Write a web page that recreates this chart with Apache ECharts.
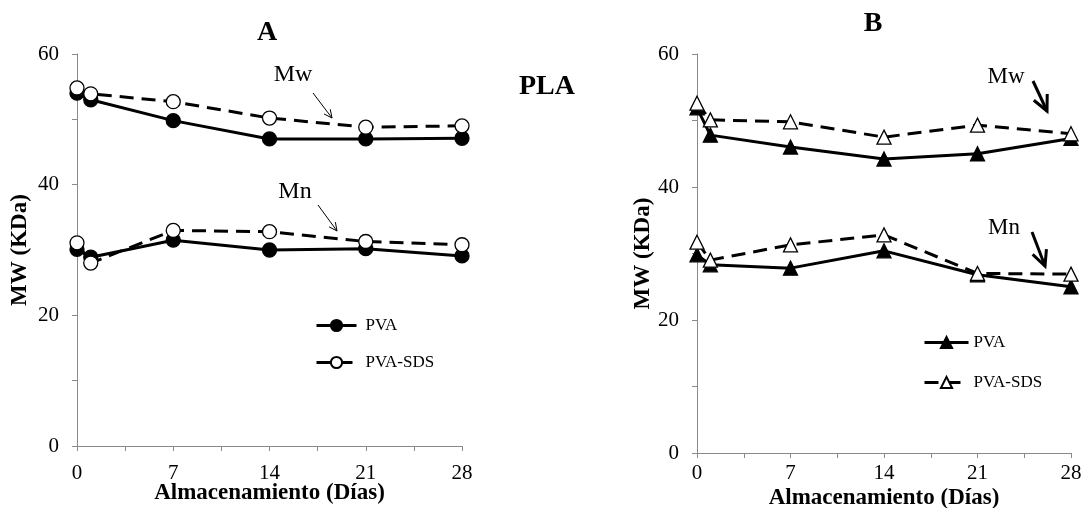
<!DOCTYPE html>
<html>
<head>
<meta charset="utf-8">
<script src="https://cdn.jsdelivr.net/npm/echarts@6/dist/echarts.min.js"></script>
<style>html,body{margin:0;padding:0;background:#fff}#c{width:1088px;height:508px}</style>
</head>
<body>
<div id="c"></div>
<script>
const days = [0, 1, 7, 14, 21, 28];
const xTicks = [0, 7, 14, 21, 28];
const yTicks = [0, 20, 40, 60];
// Panel A (circles)
const aMwPVA = [54.0, 53.0, 49.8, 47.0, 47.0, 47.1];
const aMwSDS = [54.8, 53.9, 52.7, 50.2, 48.8, 49.0];
const aMnPVA = [30.1, 28.9, 31.5, 30.0, 30.2, 29.1];
const aMnSDS = [31.1, 28.0, 33.0, 32.8, 31.3, 30.8];
// Panel B (triangles)
const bMwPVA = [51.9, 47.8, 46.0, 44.2, 45.0, 47.3];
const bMwSDS = [52.6, 50.1, 49.8, 47.5, 49.3, 48.0];
const bMnPVA = [29.8, 28.3, 27.8, 30.4, 26.8, 25.0];
const bMnSDS = [31.7, 29.0, 31.3, 32.8, 27.0, 26.9];

const FONT = '"Liberation Serif","Times New Roman",serif';
const AX = '#8a8a8a';

function pts(vals){ return days.map((d,i)=>[d, vals[i]]); }

function xAxis(gi, nameGap, labMargin){
  return {
    type:'value', gridIndex:gi, min:0, max:28, interval:3.5,
    name:'Almacenamiento (Días)', nameLocation:'middle', nameGap:nameGap, nameMoveOverlap:false,
    nameTextStyle:{fontFamily:FONT, fontWeight:'bold', fontSize:23, color:'#000'},
    axisLine:{show:true, lineStyle:{color:AX, width:1}},
    axisTick:{show:true, length:5, lineStyle:{color:AX}},
    splitLine:{show:false},
    axisLabel:{fontFamily:FONT, fontSize:21, color:'#000', margin:labMargin,
      formatter:v=> xTicks.indexOf(Math.round(v*100)/100) >= 0 ? String(Math.round(v)) : ''}
  };
}
function yAxis(gi, nameGap){
  return {
    type:'value', gridIndex:gi, min:0, max:60, interval:10,
    name:'MW (KDa)', nameLocation:'middle', nameGap:nameGap, nameRotate:90,
    nameTextStyle:{fontFamily:FONT, fontWeight:'bold', fontSize:23, color:'#000'},
    axisLine:{show:true, lineStyle:{color:AX, width:1}},
    axisTick:{show:true, length:5, lineStyle:{color:AX}},
    splitLine:{show:false},
    axisLabel:{fontFamily:FONT, fontSize:21, color:'#000', margin:18,
      formatter:v=> yTicks.indexOf(v) >= 0 ? String(v) : ''}
  };
}
function ser(name, gi, vals, symbol, filled, dashed){
  return {
    name:name, type:'line', xAxisIndex:gi, yAxisIndex:gi, data:pts(vals),
    symbol:symbol, symbolSize:14,
    lineStyle:{color:'#000', width:3, type: dashed ? [14,8] : 'solid'},
    itemStyle:{color: filled ? '#000' : '#fff', borderColor:'#000', borderWidth:1.3},
    emphasis:{disabled:true}, animation:false, z: dashed?3:2
  };
}

// annotation arrows (decoration)
function arrow(x1,y1,x2,y2,w,head){
  const a = Math.atan2(y2-y1, x2-x1);
  const h1 = [x2 - head*Math.cos(a-0.45), y2 - head*Math.sin(a-0.45)];
  const h2 = [x2 - head*Math.cos(a+0.45), y2 - head*Math.sin(a+0.45)];
  return [
    {type:'line', shape:{x1:x1,y1:y1,x2:x2,y2:y2}, style:{stroke:'#000', lineWidth:w}},
    {type:'polyline', shape:{points:[h1,[x2,y2],h2]}, style:{stroke:'#000', lineWidth:w, fill:null}}
  ];
}
function txt(x,y,t,size,bold){
  return {type:'text', x:x, y:y, style:{text:t, font:(bold?'bold ':'')+size+'px '+FONT, fill:'#000', align:'center', verticalAlign:'middle'}};
}

const chart = echarts.init(document.getElementById('c'), null, {renderer:'canvas'});
chart.setOption({
  animation:false,
  backgroundColor:'#fff',
  grid:[
    {left:77, top:54, width:385, height:392, containLabel:false, outerBoundsMode:'none'},
    {left:697, top:54, width:374, height:399, containLabel:false, outerBoundsMode:'none'}
  ],
  xAxis:[xAxis(0, 36, 17), xAxis(1, 34, 10)],
  yAxis:[yAxis(0, 45), yAxis(1, 42)],
  legend:[
    {orient:'vertical', left:310, top:312, itemWidth:40, itemHeight:14, itemGap:20,
     data:['PVA','PVA-SDS'], lineStyle:{width:3},
     textStyle:{fontFamily:FONT, fontSize:17, color:'#000', padding:[0,0,0,4]}},
    {orient:'vertical', left:918, top:329, itemWidth:44, itemHeight:14, itemGap:23,
     data:['PVA ','PVA-SDS '], formatter:n=>n.trim(), lineStyle:{width:3},
     textStyle:{fontFamily:FONT, fontSize:17, color:'#000', padding:[0,0,0,0]}}
  ],
  series:[
    ser('PVA',0,aMwPVA,'circle',true,false),
    ser('PVA',0,aMnPVA,'circle',true,false),
    ser('PVA-SDS',0,aMwSDS,'circle',false,true),
    ser('PVA-SDS',0,aMnSDS,'circle',false,true),
    ser('PVA ',1,bMwPVA,'triangle',true,false),
    ser('PVA ',1,bMnPVA,'triangle',true,false),
    ser('PVA-SDS ',1,bMwSDS,'triangle',false,true),
    ser('PVA-SDS ',1,bMnSDS,'triangle',false,true)
  ],
  graphic:[].concat(
    [txt(267,33,'A',28,true), txt(873,24,'B',28,true), txt(547,87,'PLA',28,true),
     txt(293,75,'Mw',24,false), txt(295,192,'Mn',24,false),
     txt(1006,77,'Mw',23,false), txt(1004,228,'Mn',23,false)],
    arrow(313,93,332,118,1,9),
    arrow(318,205,337,231,1,9),
    arrow(1033,81,1047,111,3,17),
    arrow(1032,232,1045,266,3,17)
  )
});
</script>
</body>
</html>
